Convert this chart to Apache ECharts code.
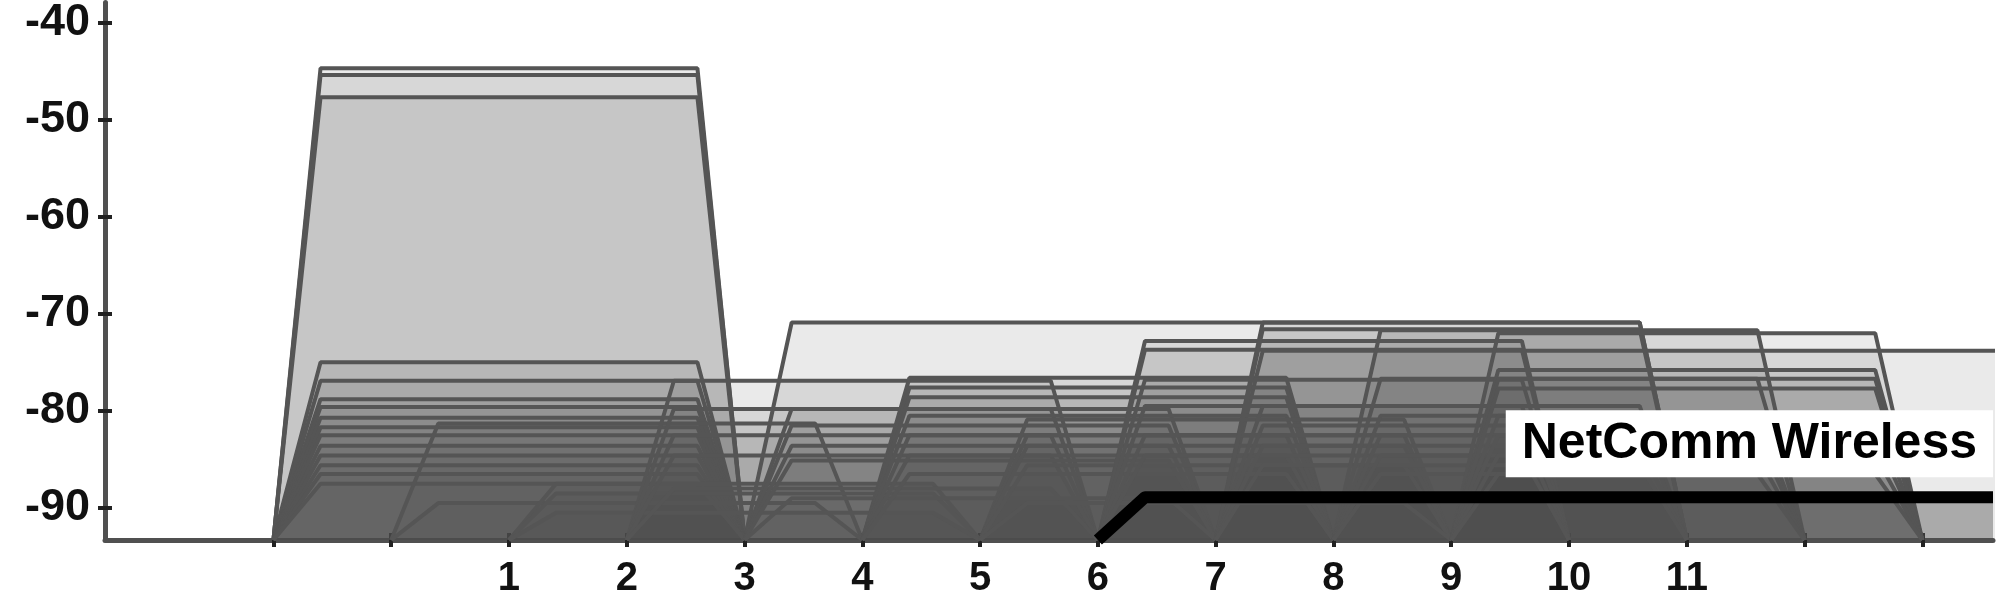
<!DOCTYPE html>
<html>
<head>
<meta charset="utf-8">
<script src="https://cdn.jsdelivr.net/npm/echarts@6/dist/echarts.min.js"></script>
<style>
html,body{margin:0;padding:0;background:#fff;}
#c{width:2000px;height:604px;}
</style>
</head>
<body>
<div id="c"></div>
<script>
// ---- data ----
// 20 MHz networks: centre channel and signal (dBm)
const ch20 = [
  1, 1, 1, 1, 1, 1, 1, 1, 1, 1, 1, 1, 1, 1, 1,
  2, 2,
  3, 3, 3,
  4, 4, 4, 4, 4,
  5, 5, 5, 5, 5,
  6, 6, 6, 6, 6, 6, 6,
  7, 7, 7, 7, 7,
  8, 8, 8, 8, 8, 8,
  9, 9, 9, 9, 9, 9,
  10, 10, 10, 10, 10, 10,
  11, 11, 11, 11, 11, 11, 11, 11
];
const sig20 = [
  -44.7, -45.4, -47.7, -75.0, -76.9, -78.8, -79.6, -80.7, -81.7, -82.5, -83.6, -84.6, -85.6, -86.5, -87.5,
  -81.3, -89.5,
  -87.5, -88.5, -90.5,
  -76.9, -79.8, -82.5, -84.6, -88.0,
  -79.8, -81.5, -83.6, -85.1, -89.0,
  -76.6, -77.6, -78.6, -80.5, -82.5, -84.6, -86.5,
  -80.9, -82.5, -83.6, -85.6, -89.5,
  -72.8, -73.7, -76.8, -79.5, -82.5, -84.6,
  -70.9, -71.6, -79.5, -81.5, -83.6, -85.6,
  -71.7, -76.7, -80.5, -82.5, -84.6, -86.5,
  -72.0, -75.8, -76.7, -77.7, -80.5, -82.5, -84.6, -86.5
];
// 40 MHz networks: centre channel and signal
const ch40 = [7, 11];
const sig40 = [-70.9, -73.8];
// highlighted network
const hiName = 'NetComm Wireless';
const hiCh = 10;
const hiSig = -88.9;
const hiWide = true;

// axis ticks / labels
const xLabelVals = [1, 2, 3, 4, 5, 6, 7, 8, 9, 10, 11];
const xTickVals = [-1, 0, 1, 2, 3, 4, 5, 6, 7, 8, 9, 10, 11, 12, 13];
const yLabelVals = [-90, -80, -70, -60, -50, -40];
const xMin = -2.43, xMax = 13.6;
const yMin = -93.3, yMax = -37.95;

// ---- build ----
const SLOPE = 0.4;
function trap(c, s, hw) {
  return [[c - hw, yMin], [c - hw + SLOPE, s], [c + hw - SLOPE, s], [c + hw, yMin]];
}
const lineCol = '#555555';
const fillCol = 'rgba(80,80,80,0.17)';
const series = [];
ch40.forEach((c, i) => {
  series.push({
    type: 'line', data: trap(c, sig40[i], 4), symbol: 'none', silent: true,
    lineStyle: { color: lineCol, width: 4 }, areaStyle: { color: fillCol, origin: 'start' },
    animation: false
  });
});
ch20.forEach((c, i) => {
  series.push({
    type: 'line', data: trap(c, sig20[i], 2), symbol: 'none', silent: true,
    lineStyle: { color: lineCol, width: 4 }, areaStyle: { color: fillCol, origin: 'start' },
    animation: false
  });
});
const hiPts = trap(hiCh, hiSig, hiWide ? 4 : 2);
// highlighted network: filled body
series.push({
  type: 'line', data: hiPts, symbol: 'none', silent: true,
  lineStyle: { width: 0, opacity: 0 },
  areaStyle: { color: 'rgba(80,80,80,0.6)', origin: 'start' },
  animation: false
});
// highlighted network: outline (the top edge runs off the right of the plot)
series.push({
  type: 'line', name: hiName, data: hiPts.slice(0, 3), symbol: 'none', silent: true,
  lineStyle: { color: '#000', width: 12, join: 'round', cap: 'butt' },
  animation: false,
  markPoint: {
    symbol: 'circle', symbolSize: 0, silent: true, animation: false,
    data: [{ coord: hiPts[2], value: hiName }],
    label: {
      show: true, formatter: hiName, position: [0, -20], align: 'right', verticalAlign: 'bottom',
      fontFamily: 'Liberation Sans', fontWeight: 'bold', fontSize: 50, color: '#000',
      lineHeight: 55, backgroundColor: '#fff', padding: [6, 16, 6, 16]
    }
  }
});

const axisCol = '#505050';
const chart = echarts.init(document.getElementById('c'), null, { renderer: 'canvas' });
chart.setOption({
  backgroundColor: '#fff',
  animation: false,
  grid: { left: 105, right: 7, top: 0, bottom: 64, containLabel: false },
  xAxis: [{
    type: 'value', min: xMin, max: xMax, position: 'bottom', offset: 0,
    splitLine: { show: false },
    axisLine: { show: true, onZero: false, lineStyle: { color: axisCol, width: 5 } },
    axisTick: { show: true, customValues: xTickVals, length: 7, lineStyle: { color: '#222', width: 4 } },
    axisLabel: { show: true, customValues: xLabelVals, margin: 19, fontFamily: 'Liberation Sans', fontWeight: 'bold', fontSize: 40, color: '#111' }
  }, {
    type: 'value', min: xMin, max: xMax, position: 'bottom', offset: 0,
    splitLine: { show: false }, axisLine: { show: false, onZero: false },
    axisTick: { show: true, inside: true, customValues: xTickVals, length: 7, lineStyle: { color: '#222', width: 4 } },
    axisLabel: { show: false }
  }],
  yAxis: [{
    type: 'value', min: yMin, max: yMax, position: 'left', offset: 0,
    splitLine: { show: false },
    axisLine: { show: true, onZero: false, lineStyle: { color: axisCol, width: 5 } },
    axisTick: { show: true, customValues: yLabelVals, length: 7, lineStyle: { color: '#222', width: 4 } },
    axisLabel: { show: true, customValues: yLabelVals, margin: 15, fontFamily: 'Liberation Sans', fontWeight: 'bold', fontSize: 45, color: '#111' }
  }, {
    type: 'value', min: yMin, max: yMax, position: 'left', offset: 0,
    splitLine: { show: false }, axisLine: { show: false, onZero: false },
    axisTick: { show: true, inside: true, customValues: yLabelVals, length: 7, lineStyle: { color: '#222', width: 4 } },
    axisLabel: { show: false }
  }],
  series: series
});
</script>
</body>
</html>
